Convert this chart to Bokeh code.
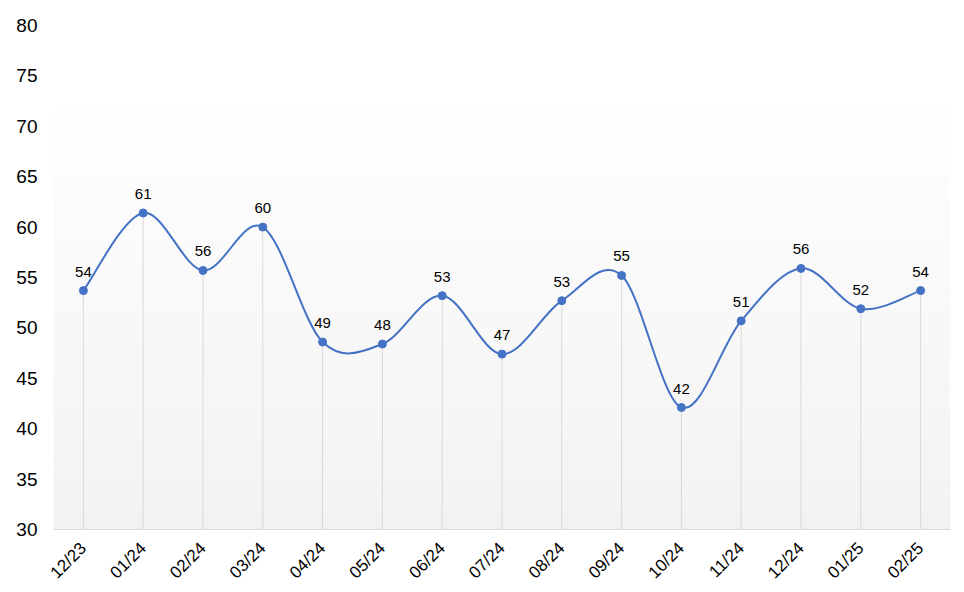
import math
from bokeh.plotting import figure
from bokeh.models import FactorRange, Range1d, ColumnDataSource, FixedTicker, LinearAxis, CategoricalAxis
from bokeh.core.properties import value
from bokeh.embed import file_html
from bokeh.resources import INLINE

months = ["12/23", "01/24", "02/24", "03/24", "04/24", "05/24", "06/24", "07/24",
          "08/24", "09/24", "10/24", "11/24", "12/24", "01/25", "02/25"]
scores = [53.7, 61.4, 55.7, 60.0, 48.6, 48.4, 53.2, 47.4, 52.7, 55.2, 42.1, 50.7, 55.9, 51.9, 53.7]
y_ticks = [30, 35, 40, 45, 50, 55, 60, 65, 70, 75, 80]

LINE = "#4472C4"
FONT = "Liberation Sans"

p = figure(width=964, height=592, x_range=FactorRange(*months), y_range=Range1d(30, 80),
           output_backend="svg", toolbar_location=None, x_axis_location=None, y_axis_location=None,
           min_border_left=53, min_border_right=14, min_border_top=25, min_border_bottom=63)
p.outline_line_color = None
p.background_fill_color = "white"
p.border_fill_color = "white"
p.xgrid.visible = False
p.ygrid.visible = False

# gradient background (white at top to light gray at bottom)
n = 60
g_lo, g_hi = 30.0, 74.0
bots, tops, cols = [], [], []
for k in range(n):
    b = g_lo + (g_hi - g_lo) * k / n
    t = g_lo + (g_hi - g_lo) * (k + 1) / n
    f = k / (n - 1)
    c = int(round(242 + (255 - 242) * f))
    bots.append(b)
    tops.append(t)
    cols.append("#%02x%02x%02x" % (c, c, c))
p.quad(left=0, right=len(months), bottom=bots, top=tops, fill_color=cols, line_color=None)

xs = [i + 0.5 for i in range(len(months))]

# drop lines
p.segment(x0=months, y0=30, x1=months, y1=scores, line_color="#d9d9d9", line_width=1)

# smooth curve (Catmull-Rom as cubic Bezier)
x0s, y0s, x1s, y1s, cx0, cy0, cx1, cy1 = [], [], [], [], [], [], [], []
N = len(scores)
for i in range(N - 1):
    xp, yp = (xs[i - 1], scores[i - 1]) if i > 0 else (xs[i], scores[i])
    xn2, yn2 = (xs[i + 2], scores[i + 2]) if i + 2 < N else (xs[i + 1], scores[i + 1])
    x0s.append(xs[i]); y0s.append(scores[i])
    x1s.append(xs[i + 1]); y1s.append(scores[i + 1])
    cx0.append(xs[i] + (xs[i + 1] - xp) / 6.0)
    cy0.append(scores[i] + (scores[i + 1] - yp) / 6.0)
    cx1.append(xs[i + 1] - (xn2 - xs[i]) / 6.0)
    cy1.append(scores[i + 1] - (yn2 - scores[i]) / 6.0)
p.bezier(x0=x0s, y0=y0s, x1=x1s, y1=y1s, cx0=cx0, cy0=cy0, cx1=cx1, cy1=cy1,
         line_color=LINE, line_width=2)

src = ColumnDataSource(dict(m=months, v=scores, lab=[str(int(round(v))) for v in scores]))
p.scatter(x="m", y="v", source=src, size=8, fill_color=LINE, line_color=LINE)
p.text(x="m", y="v", text="lab", source=src, text_align="center", text_baseline="bottom",
       y_offset=-14, text_font=value(FONT), text_font_size="15px", text_color="#000000")

# axes
xa = CategoricalAxis()
xa.axis_line_color = "#d9d9d9"
xa.major_tick_line_color = None
xa.minor_tick_line_color = None
xa.major_label_orientation = math.pi / 4
xa.major_label_text_font = FONT
xa.major_label_text_font_size = "17px"
xa.major_label_text_color = "#000000"
xa.major_label_standoff = 10
p.add_layout(xa, "below")

ya = LinearAxis(ticker=FixedTicker(ticks=y_ticks))
ya.axis_line_color = None
ya.major_tick_line_color = None
ya.minor_tick_line_color = None
ya.major_label_text_font = FONT
ya.major_label_text_font_size = "19px"
ya.major_label_text_color = "#000000"
ya.major_label_standoff = 10
p.add_layout(ya, "left")

open("out.html", "w").write(file_html(p, INLINE))
